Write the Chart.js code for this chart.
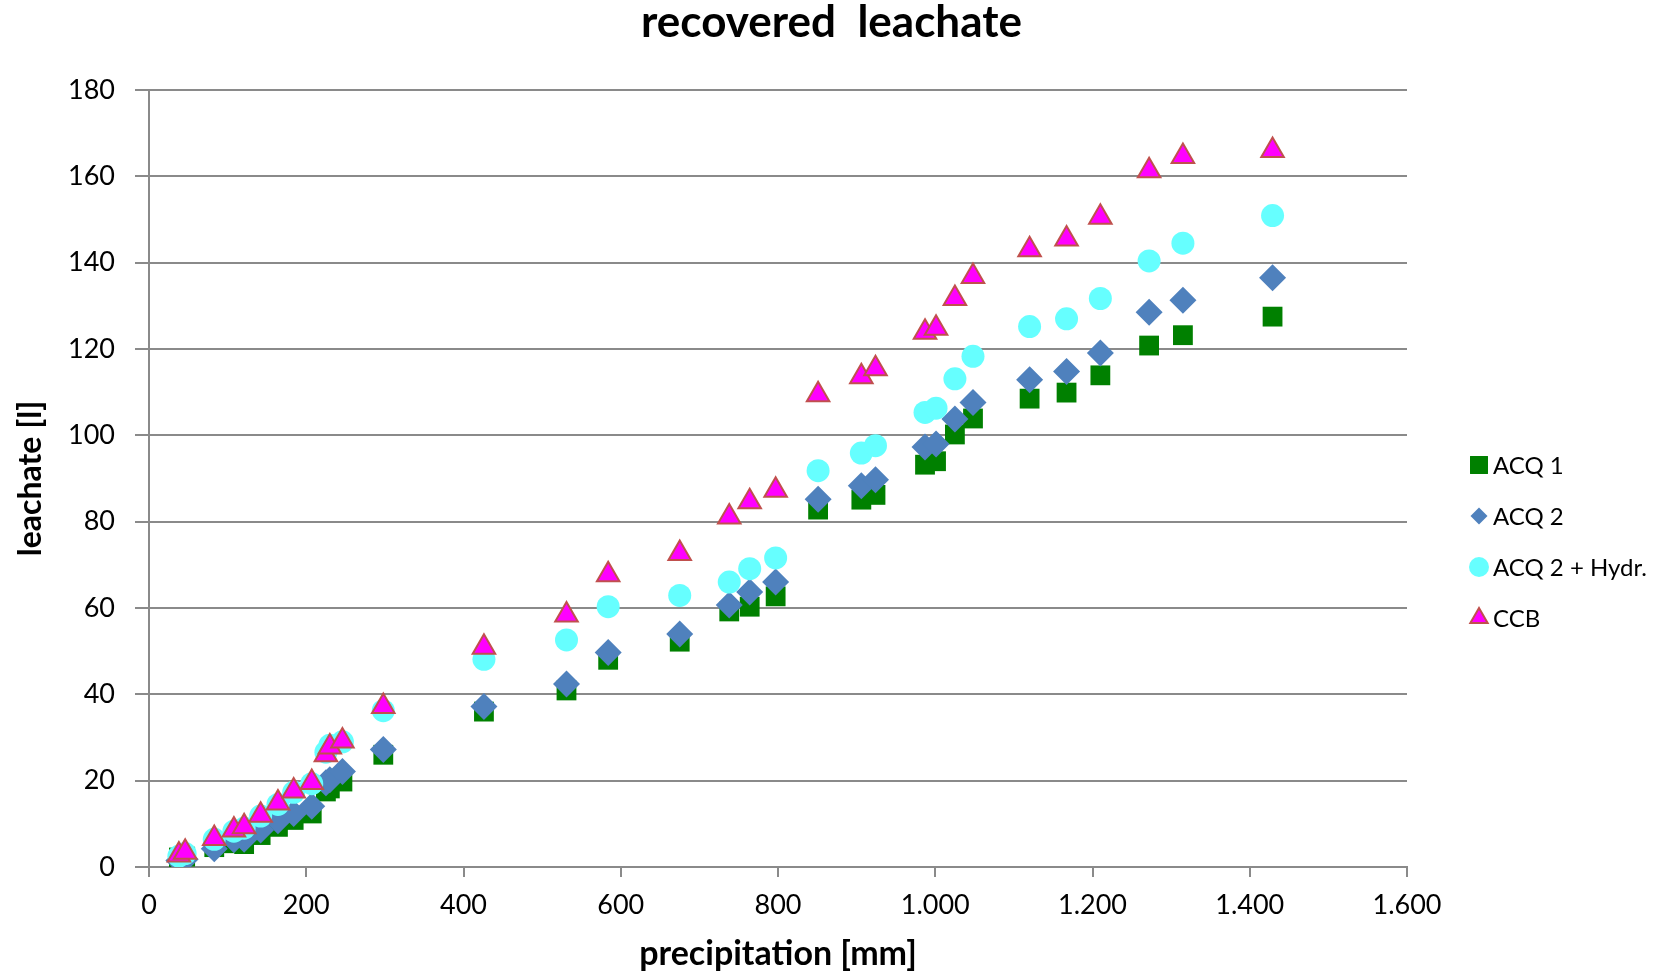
<!DOCTYPE html>
<html>
<head>
<meta charset="utf-8">
<title>recovered leachate</title>
<script src="https://cdn.jsdelivr.net/npm/chart.js@4.4.1/dist/chart.umd.min.js"></script>
<style>
  html, body { margin: 0; padding: 0; background: #fff; }
  #wrap { position: relative; width: 1663px; height: 972px; }
</style>
</head>
<body>
<div id="wrap"><canvas id="chart"></canvas></div>
<script>
// precipitation [mm] at each reading, shared by all four lysimeters
const precipitation = [38, 46, 83, 108, 121, 142, 164, 184, 207, 225, 230, 246, 298, 426, 531, 584, 675, 738, 764, 797,
  851, 906, 924, 987, 1001, 1025, 1048, 1120, 1167, 1210, 1272, 1315, 1429];

// recovered leachate [l]
const acq1 = [2.2, 2.4, 4.6, 5.5, 5.3, 7.4, 9.3, 10.9, 12.4, 17.5, 18.2, 19.8, 26.0, 36.0, 40.9, 48.0, 52.2, 59.2, 60.3, 62.7,
  82.8, 85.1, 86.2, 93.2, 94.0, 100.2, 103.9, 108.5, 109.9, 113.9, 120.8, 123.2, 127.5];
const acq2 = [1.5, 1.8, 4.2, 6.3, 6.4, 8.6, 10.7, 12.4, 14.1, 19.5, 20.2, 22.1, 27.2, 37.2, 42.4, 49.7, 54.0, 60.7, 63.7, 66.0,
  85.2, 88.3, 89.7, 97.3, 98.0, 103.8, 107.6, 112.9, 114.8, 119.1, 128.5, 131.3, 136.5];
const acq2Hydr = [2.5, 3.1, 6.4, 8.3, 9.0, 11.8, 14.5, 17.3, 19.3, 26.6, 28.2, 29.0, 36.2, 48.1, 52.6, 60.3, 62.9, 66.0, 69.1, 71.6,
  91.8, 95.9, 97.6, 105.3, 106.3, 113.1, 118.3, 125.2, 127.0, 131.7, 140.4, 144.5, 150.9];
const ccb = [2.8, 3.4, 6.6, 8.6, 9.3, 12.0, 14.8, 17.6, 19.6, 26.0, 27.8, 29.2, 37.2, 50.9, 58.4, 67.7, 72.6, 81.1, 84.6, 87.3,
  109.4, 113.6, 115.4, 123.9, 124.8, 131.7, 136.8, 143.0, 145.5, 150.5, 161.3, 164.6, 166.0];

const seriesNames = ["ACQ 1", "ACQ 2", "ACQ 2 + Hydr.", "CCB"];

const FONT = "Lato, 'Open Sans', sans-serif";
const GRID = "#8a8a8a";

// german style thousands separator: 1.000, 1.200 ...
const fmtThousands = (v) => String(v).replace(/\B(?=(\d{3})+(?!\d))/g, ".");

const toPoints = (ys) => precipitation.map((x, i) => ({ x, y: ys[i] }));

// marker sizes used in the side legend (smaller than on the plot)
const LEGEND_RADIUS = { rect: 12.7, rectRot: 8.5, circle: 10, triangle: 10 };

const sideLegend = {
  id: "sideLegend",
  afterDraw(chart) {
    const { ctx } = chart;
    const mx = 1479, tx = 1493;
    let y = 465;
    ctx.save();
    ctx.font = "24px " + FONT;
    ctx.textBaseline = "middle";
    ctx.textAlign = "left";
    chart.data.datasets.forEach((ds) => {
      ctx.fillStyle = ds.backgroundColor;
      ctx.strokeStyle = ds.borderColor;
      ctx.lineWidth = ds.borderWidth;
      Chart.helpers.drawPoint(ctx, {
        pointStyle: ds.pointStyle,
        radius: LEGEND_RADIUS[ds.pointStyle],
        rotation: 0,
        borderWidth: ds.borderWidth
      }, mx, y);
      ctx.fillStyle = "#000";
      ctx.fillText(ds.label, tx, y + 1);
      y += 51;
    });
    ctx.restore();
  }
};

new Chart(document.getElementById("chart"), {
  type: "scatter",
  data: {
    datasets: [
      { label: seriesNames[0], data: toPoints(acq1), pointStyle: "rect", pointRadius: 14,
        backgroundColor: "#008000", borderColor: "#008000", borderWidth: 0, order: 4 },
      { label: seriesNames[1], data: toPoints(acq2), pointStyle: "rectRot", pointRadius: 13.5,
        backgroundColor: "#4f81bd", borderColor: "#4f81bd", borderWidth: 0, order: 3 },
      { label: seriesNames[2], data: toPoints(acq2Hydr), pointStyle: "circle", pointRadius: 11.5,
        backgroundColor: "#66ffff", borderColor: "#66ffff", borderWidth: 0, order: 2 },
      { label: seriesNames[3], data: toPoints(ccb), pointStyle: "triangle", pointRadius: 13,
        backgroundColor: "#ff00ff", borderColor: "#c0504d", borderWidth: 2, order: 1 }
    ]
  },
  options: {
    responsive: true,
    maintainAspectRatio: false,
    animation: false,
    layout: { padding: 0 },
    plugins: {
      legend: { display: false },
      tooltip: { enabled: false },
      title: {
        display: true,
        text: "recovered  leachate",
        color: "#000",
        font: { family: FONT, size: 44, weight: "bold", lineHeight: 1.05 },
        padding: { top: 0, bottom: 43.8 }
      }
    },
    scales: {
      x: {
        type: "linear",
        min: 0,
        max: 1600,
        afterFit(scale) { scale.height = 105; },
        ticks: {
          stepSize: 200,
          color: "#000",
          padding: 12,
          maxRotation: 0,
          font: { family: FONT, size: 27 },
          callback: (v) => fmtThousands(v)
        },
        grid: { drawOnChartArea: false, color: GRID, lineWidth: 2, tickLength: 10 },
        border: { color: GRID, width: 2 },
        title: {
          display: true,
          text: "precipitation [mm]",
          color: "#000",
          font: { family: FONT, size: 34, weight: "bold", lineHeight: 1.05 },
          padding: { top: 0, bottom: 0 }
        }
      },
      y: {
        type: "linear",
        min: 0,
        max: 180,
        afterFit(scale) { scale.width = 149; },
        ticks: {
          stepSize: 20,
          color: "#000",
          padding: 20,
          font: { family: FONT, size: 27 }
        },
        grid: { color: GRID, lineWidth: 2, tickLength: 14 },
        border: { color: GRID, width: 2 },
        title: {
          display: true,
          text: "leachate [l]",
          color: "#000",
          font: { family: FONT, size: 32, weight: "bold", lineHeight: 1.05 },
          padding: { top: 14, bottom: 0 }
        }
      },
      // empty right-hand axis that keeps the space where the legend is drawn
      legendSpace: {
        type: "linear",
        position: "right",
        afterFit(scale) { scale.width = 256; },
        ticks: { display: false },
        grid: { display: false },
        border: { display: false }
      }
    }
  },
  plugins: [sideLegend]
});
</script>
</body>
</html>
